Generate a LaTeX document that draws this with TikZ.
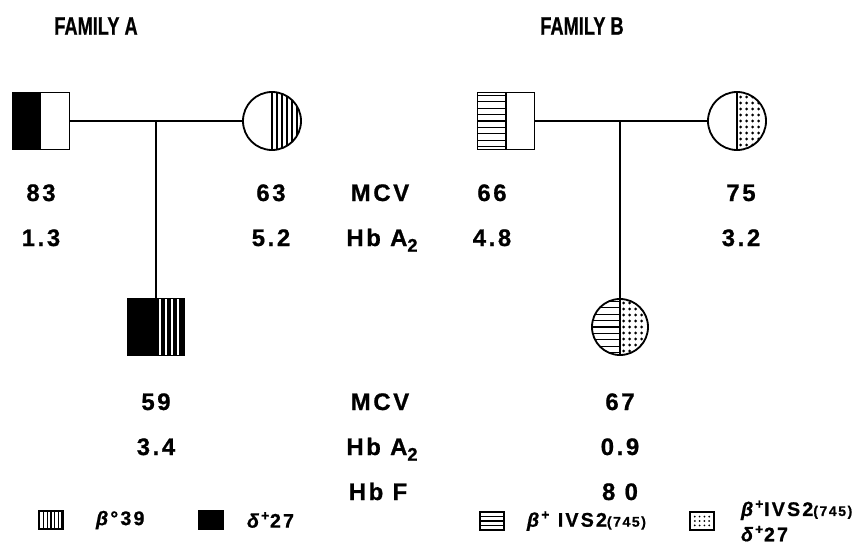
\documentclass[tikz,border=0pt]{standalone}
\usepackage{graphicx}
\usepackage{fontspec}
\setmainfont{Liberation Sans}[FakeBold=0.8]
\newfontfamily\valfont{Liberation Sans}[LetterSpace=11, FakeBold=0.8]
\usetikzlibrary{positioning}

% subscript used in the Hb A2 rows
\newcommand{\subtwo}{\raisebox{-0.45ex}{\fontsize{13}{13}\selectfont 2}}

% half fillings, drawn inside a symbol (path picture) before its border
\newcommand{\pbb}{path picture bounding box}
\newcommand{\halfsolid}{%
  \fill (\pbb.south west) rectangle (\pbb.north);}
\newcommand{\halfvlines}{%
  \foreach \d in {0,...,5}
    \draw[line width=0.9pt] ([xshift=\d*0.125cm]\pbb.north) -- ([xshift=\d*0.125cm]\pbb.south);}
\newcommand{\halfbars}{%
  \fill (\pbb.south) rectangle (\pbb.north east);
  \foreach \d in {0.11,0.26,0.41,0.56}
    \draw[white, line width=1.4pt] ([xshift=\d cm]\pbb.north) -- ([xshift=\d cm]\pbb.south);}
\newcommand{\halfhlines}{%
  \foreach \d in {-4,...,4}
    \draw[line width=0.8pt] ([yshift=\d*0.16cm]\pbb.west) -- ([yshift=\d*0.16cm]\pbb.center);
  \draw[line width=1pt] (\pbb.north) -- (\pbb.south);}
\newcommand{\halfdots}{%
  \foreach \i in {1,...,4}
    \foreach \j in {-4,...,4}
      \fill ([shift={(\i*0.15cm-0.06cm,\j*0.15cm)}]\pbb.center) circle (1.1pt);
  \draw[line width=1pt] (\pbb.north) -- (\pbb.south);}

\begin{document}
\begin{tikzpicture}[
  x=0.025cm, y=-0.025cm,
  every node/.style={inner sep=0pt, font=\valfont\bfseries\fontsize{17}{20}\selectfont},
  title/.style={font=\bfseries\fontsize{18}{20}\selectfont},
  val/.style={anchor=base},
  keytext/.style={font=\valfont\bfseries\fontsize{14}{16}\selectfont, align=left},
  sq/.style={draw, line width=1.3pt, minimum size=1.425cm},
  circ/.style={circle, draw, line width=1.3pt, minimum size=1.45cm},
  key/.style={draw, line width=1pt, minimum width=0.6cm, minimum height=0.45cm},
  link/.style={line width=1.1pt}
]
  \useasboundingbox (0,0) rectangle (859,558);

  % row baselines
  \coordinate (mcv1) at (0,201);
  \coordinate (hba1) at (0,246);
  \coordinate (mcv2) at (0,410);
  \coordinate (hba2) at (0,455);
  \coordinate (hbf2) at (0,500);

  % Family A
  \node[title] (famA) at (96,26) {\scalebox{0.72}[1]{FAMILY A}};
  \node[sq, path picture={\halfsolid}] (fa) at (41,121) {};
  \node[circ, path picture={\halfvlines}] (ma) at (272,121) {};
  \node[sq, path picture={\halfsolid\halfbars}] (ca) at (156,327) {};
  \coordinate (ja) at (ca |- fa);
  \draw[link] (fa) -- (ma);
  \draw[link] (ja) -- (ca);

  % Family B
  \node[title] (famB) at (582,26) {\scalebox{0.72}[1]{FAMILY B}};
  \node[sq, path picture={\halfhlines}] (fb) at (506,121) {};
  \node[circ, path picture={\halfdots}] (mb) at (737,121) {};
  \node[circ, minimum size=1.4cm, path picture={\halfhlines\halfdots}] (cb) at (620,327) {};
  \coordinate (jb) at (cb |- fb);
  \draw[link] (fb) -- (mb);
  \draw[link] (jb) -- (cb);

  % parents' values
  \node[val] (mcvA) at (fa |- mcv1) {83};
  \node[val] (hbaA) at (fa |- hba1) {1.3};
  \node[val] (mcvMA) at (271,0 |- mcv1) {63};
  \node[val] (hbaMA) at (271,0 |- hba1) {5.2};
  \node[val] (mcvlab1) at (380,0 |- mcv1) {MCV};
  \node[val] (hbalab1) at (382,0 |- hba1) {Hb A\subtwo};
  \node[val] (mcvB) at (492,0 |- mcv1) {66};
  \node[val] (hbaB) at (492,0 |- hba1) {4.8};
  \node[val] (mcvMB) at (741,0 |- mcv1) {75};
  \node[val] (hbaMB) at (741,0 |- hba1) {3.2};

  % children's values
  \node[val] (mcvCA) at (ca |- mcv2) {59};
  \node[val] (hbaCA) at (ca |- hba2) {3.4};
  \node[val] (mcvlab2) at (380,0 |- mcv2) {MCV};
  \node[val] (hbalab2) at (382,0 |- hba2) {Hb A\subtwo};
  \node[val] (hbflab2) at (378,0 |- hbf2) {Hb F};
  \node[val] (mcvCB) at (cb |- mcv2) {67};
  \node[val] (hbaCB) at (cb |- hba2) {0.9};
  \node[val] (hbfCB) at (cb |- hbf2) {8 0};

  % key
  \node[key, path picture={
    \foreach \d in {-2,...,3}
      \draw[line width=0.8pt] ([xshift=\d*0.09cm]\pbb.north) -- ([xshift=\d*0.09cm]\pbb.south);}]
    (keyvert) at (51,520) {};
  \node[keytext, right=0.8cm of keyvert] (tvert) {\textit{β}°39};
  \node[key, fill] (keysolid) at (211,520) {};
  \node[keytext, right=0.575cm of keysolid] (tsolid) {\textit{δ}\textsuperscript{+}27};
  \node[key, path picture={
    \foreach \d in {-1,0,1}
      \draw[line width=0.8pt] ([yshift=\d*0.11cm]\pbb.west) -- ([yshift=\d*0.11cm]\pbb.east);}]
    (keyhoriz) at (492,521) {};
  \node[keytext, right=0.55cm of keyhoriz] (thoriz) {\textit{β}\textsuperscript{+} IVS2{\fontsize{10}{12}\selectfont(745)}};
  \node[key, path picture={
    \foreach \i in {-1.5,-0.5,0.5,1.5}
      \foreach \j in {-1,0,1}
        \fill ([shift={(\i*0.12cm,\j*0.11cm)}]\pbb.center) circle (0.7pt);}]
    (keydots) at (702,521) {};
  \node[keytext, right=0.65cm of keydots] (tdots) {\textit{β}\textsuperscript{+}IVS2{\fontsize{10}{12}\selectfont(745)}\\[2pt]\textit{δ}\textsuperscript{+}27};
\end{tikzpicture}
\end{document}
